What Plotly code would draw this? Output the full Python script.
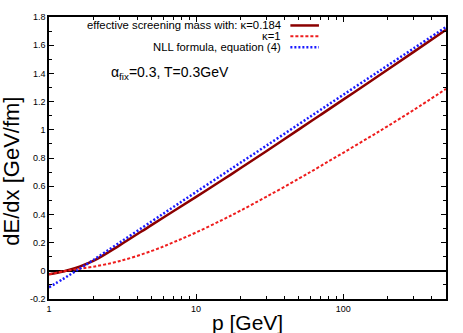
import plotly.graph_objs as go

# momentum p [GeV]
p = [1, 1.25, 1.5, 2, 3, 5, 7, 10, 15, 20, 30, 50, 70, 100, 150, 200, 300, 500]

# dE/dx [GeV/fm], effective screening mass kappa=0.184
de_k0184 = [-0.025, -0.005, 0.018, 0.070, 0.179, 0.326, 0.422, 0.524, 0.642, 0.727,
            0.848, 1.003, 1.105, 1.214, 1.337, 1.426, 1.551, 1.709]
# kappa=1
de_k1 = [-0.025, -0.004, 0.010, 0.029, 0.068, 0.141, 0.202, 0.272, 0.36, 0.426,
         0.525, 0.654, 0.742, 0.837, 0.946, 1.025, 1.139, 1.29]
# NLL formula, equation (4)
de_nll = [-0.117, -0.057, -0.006, 0.077, 0.198, 0.351, 0.452, 0.559, 0.680, 0.766,
          0.887, 1.040, 1.141, 1.248, 1.369, 1.455, 1.576, 1.729]

ytick_vals = [-0.2, 0, 0.2, 0.4, 0.6, 0.8, 1, 1.2, 1.4, 1.6, 1.8]
ytick_text = ["-0.2", "0", "0.2", "0.4", "0.6", "0.8", "1", "1.2", "1.4", "1.6", "1.8"]
xtick_vals = [1, 10, 100]
xtick_text = ["1", "10", "100"]

font = "Liberation Sans, Arial, sans-serif"

fig = go.Figure()
fig.add_trace(go.Scatter(x=p, y=de_k0184, mode="lines", line=dict(color="#8b0000", width=2.5),
                         line_shape="spline", showlegend=False))
fig.add_trace(go.Scatter(x=p, y=de_k1, mode="lines", line=dict(color="#ee1c1c", width=2, dash="3px,2px"),
                         line_shape="spline", showlegend=False))
fig.add_trace(go.Scatter(x=p, y=de_nll, mode="lines", line=dict(color="#1a1aff", width=2.5, dash="2px,2px"),
                         line_shape="spline", showlegend=False))

# gnuplot-style key: right-aligned text, sample on the right
key = [("effective screening mass with: κ=0.184", dict(color="#8b0000", width=2.5)),
       ("κ=1", dict(color="#ee1c1c", width=2, dash="3px,2px")),
       ("NLL formula, equation (4)", dict(color="#1a1aff", width=2.5, dash="2px,2px"))]
for i, (txt, ln) in enumerate(key):
    yk = 0.97 - i * 0.0385
    fig.add_annotation(x=0.59, y=yk, xref="paper", yref="paper", text=txt, showarrow=False,
                       xanchor="right", yanchor="middle", font=dict(size=11.3, color="black", family=font))
    fig.add_shape(type="line", xref="paper", yref="paper", x0=0.608, x1=0.68, y0=yk, y1=yk, line=ln)

fig.add_annotation(x=0.15, y=0.80, xref="paper", yref="paper",
                   text="α<sub>fix</sub>=0.3, T=0.3GeV", showarrow=False,
                   xanchor="left", yanchor="middle", font=dict(size=14, color="black", family=font))

# axis titles
fig.add_annotation(x=-0.0932, y=0.455, xref="paper", yref="paper", text="dE/dx [GeV/fm]",
                   showarrow=False, textangle=-90, xanchor="center", yanchor="middle",
                   font=dict(size=22, color="black", family=font))
fig.add_annotation(x=0.5, y=-0.035, xref="paper", yref="paper", text="p [GeV]",
                   showarrow=False, xanchor="center", yanchor="top",
                   font=dict(size=21, color="black", family=font))

fig.update_xaxes(type="log", range=[0, 2.699], tickvals=xtick_vals, ticktext=xtick_text,
                 ticks="inside", ticklen=5, tickcolor="black", showline=True, linecolor="black",
                 linewidth=1.5, mirror="allticks", showgrid=False, zeroline=False,
                 tickfont=dict(size=9, color="black", family=font),
                 minor=dict(ticks="inside", ticklen=3, tickcolor="black", dtick="D1", showgrid=False))
fig.update_yaxes(range=[-0.2, 1.8], tickvals=ytick_vals, ticktext=ytick_text,
                 ticks="inside", ticklen=5, tickcolor="black", showline=True, linecolor="black",
                 linewidth=1.5, mirror="allticks", showgrid=False,
                 zeroline=True, zerolinecolor="black", zerolinewidth=2,
                 tickfont=dict(size=9, color="black", family=font),
                 minor=dict(ticks="inside", ticklen=3, tickcolor="black", dtick=0.1, showgrid=False))

fig.update_layout(width=463, height=333, margin=dict(l=49, r=17, t=12, b=34),
                  plot_bgcolor="white", paper_bgcolor="white", showlegend=False)

fig.write_html("out.html", config={"displayModeBar": False},
               post_script="document.body.style.margin='0';")
